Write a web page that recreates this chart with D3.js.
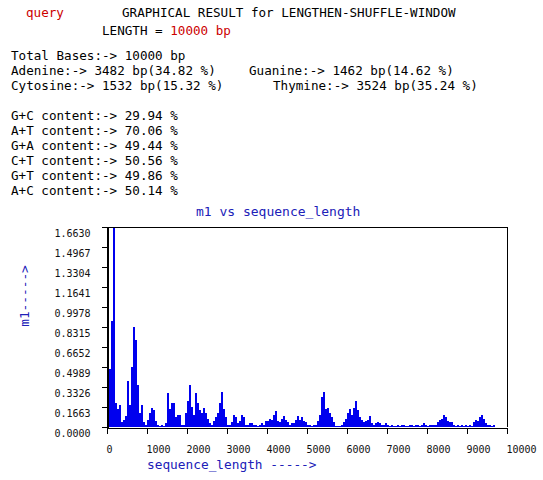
<!DOCTYPE html>
<html><head><meta charset="utf-8">
<script src="https://cdn.jsdelivr.net/npm/d3@7/dist/d3.min.js"></script>
<style>
html,body{margin:0;padding:0;background:#fff;}
svg{display:block;}
text{font-family:"DejaVu Sans Mono",monospace;}
</style></head>
<body>
<script>
// ---- data ----
const stepBp = 50;
const m1Values = [
0.28,0.48,0.88,1.663,0.2,0.15,0.18,0.04,0.06,0.09,
0.38,0.18,0.5,0.83,0.72,0.35,0.12,0.18,0.04,0.02,
0.06,0.12,0.16,0.14,0.05,0.02,0.01,0.02,0.01,0.03,
0.28,0.15,0.2,0.2,0.08,0.1,0.1,0.02,0.02,0.12,
0.22,0.35,0.17,0.1,0.28,0.2,0.14,0.12,0.16,0.12,
0.07,0.03,0.02,0.05,0.08,0.12,0.2,0.29,0.15,0.08,
0.02,0.02,0.04,0.1,0.08,0.03,0.05,0.1,0.08,0.02,
0.02,0.03,0.03,0.02,0.02,0.01,0.02,0.03,0.02,0.05,
0.05,0.07,0.06,0.1,0.13,0.05,0.04,0.07,0.09,0.06,
0.04,0.02,0.03,0.03,0.06,0.09,0.06,0.08,0.05,0.04,
0.02,0.02,0.01,0.02,0.02,0.05,0.1,0.25,0.29,0.15,
0.16,0.12,0.08,0.04,0.01,0.01,0.01,0.02,0.04,0.07,
0.12,0.15,0.1,0.16,0.22,0.14,0.08,0.06,0.04,0.05,
0.06,0.09,0.03,0.02,0.03,0.04,0.03,0.015,0.02,0.035,
0.015,0.01,0.015,0.005,0.01,0.015,0.01,0.02,0.015,0.01,
0.01,0.02,0.015,0.01,0.02,0.015,0.01,0.02,0.03,0.015,
0.01,0.015,0.02,0.015,0.02,0.04,0.06,0.07,0.1,0.08,
0.05,0.04,0.04,0.015,0.01,0.015,0.01,0.015,0.01,0.015,
0.01,0.015,0.01,0.04,0.06,0.05,0.08,0.1,0.07,0.03,
0.015,0.015,0.01,0.015
];
const yTickValues = [0,0.1663,0.3326,0.4989,0.6652,0.8315,0.9978,1.1641,1.3304,1.4967,1.6630];
const yTickLabels = ["0.0000","0.1663","0.3326","0.4989","0.6652","0.8315","0.9978","1.1641","1.3304","1.4967","1.6630"];
const xTickValues = [0,1000,2000,3000,4000,5000,6000,7000,8000,9000,10000];
const xTickLabels = ["0","1000","2000","3000","4000","5000","6000","7000","8000","9000","10000"];
const headerTitle = "GRAPHICAL RESULT for LENGTHEN-SHUFFLE-WINDOW";
const seqName = "query";
const lengthText = "10000 bp";
const statLines = [
  ["Total Bases:-> 10000 bp", ""],
  ["Adenine:-> 3482 bp(34.82 %)", "Guanine:-> 1462 bp(14.62 %)"],
  ["Cytosine:-> 1532 bp(15.32 %)", "Thymine:-> 3524 bp(35.24 %)"]
];
const contentLines = [
  "G+C content:-> 29.94 %",
  "A+T content:-> 70.06 %",
  "G+A content:-> 49.44 %",
  "C+T content:-> 50.56 %",
  "G+T content:-> 49.86 %",
  "A+C content:-> 50.14 %"
];
const chartTitle = "m1 vs sequence_length";
const xLabel = "sequence_length ----->";
const yLabel = "m1----->";

// ---- drawing ----
(function () {
const W = 543, H = 480;
const svg = d3.select("body").append("svg").attr("width", W).attr("height", H);
svg.append("rect").attr("width", W).attr("height", H).attr("fill", "#fff");

const red = "#cc0000", blueText = "#2020b8", fs = "12.6px";

// header
svg.append("text").attr("x", 26).attr("y", 17).attr("fill", red).style("font-size", fs).text(seqName);
svg.append("text").attr("x", 122).attr("y", 17).attr("fill", "#000").style("font-size", fs).text(headerTitle);
const lt = svg.append("text").attr("x", 102).attr("y", 35).attr("fill", "#000").style("font-size", fs).attr("xml:space","preserve");
lt.append("tspan").text("LENGTH = ");
lt.append("tspan").attr("fill", red).text(lengthText);

const statRightX = [0, 249, 273];
statLines.forEach((l, i) => {
  svg.append("text").attr("x", 11).attr("y", 60 + 15 * i).attr("fill", "#000").style("font-size", fs).text(l[0]);
  if (l[1]) svg.append("text").attr("x", statRightX[i]).attr("y", 60 + 15 * i).attr("fill", "#000").style("font-size", fs).text(l[1]);
});
contentLines.forEach((l, i) => {
  svg.append("text").attr("x", 11).attr("y", 120 + 15 * i).attr("fill", "#000").style("font-size", fs).text(l);
});

// chart
const pL = 107, pR = 507, pT = 227, pB = 427;
const x = d3.scaleLinear().domain([0, 10000]).range([pL, pR]);
const y = d3.scaleLinear().domain([0, 1.663]).range([pB, pT]);

svg.append("g").attr("shape-rendering", "crispEdges")
  .selectAll("rect").data(m1Values).join("rect")
  .attr("x", (d, i) => x(i * stepBp))
  .attr("width", (d, i) => x((i + 1) * stepBp) - x(i * stepBp))
  .attr("y", d => y(Math.min(d, 1.663)))
  .attr("height", d => y(0) - y(Math.min(d, 1.663)))
  .attr("fill", "#0000ee");

// frame
const frame = svg.append("g").attr("shape-rendering", "crispEdges").attr("stroke", "#000").attr("fill", "none");
frame.append("path").attr("d", `M${pL + 0.5},${pB}V${pT + 0.5}H${pR + 0.5}V${pB}`);

// axes
const yAxis = d3.axisLeft(y).tickValues(yTickValues).tickSize(6).tickFormat((d, i) => yTickLabels[i]);
const gy = svg.append("g").attr("transform", `translate(${pL + 0.5},0)`).call(yAxis);
gy.select(".domain").attr("shape-rendering", "crispEdges");
gy.selectAll(".tick line").attr("shape-rendering", "crispEdges");
gy.selectAll(".tick text").attr("x", -17).attr("dy", "0.95em")
  .style("font-family", "'DejaVu Sans Mono',monospace").style("font-size", "10px").attr("fill", "#111");

const xAxis = d3.axisBottom(x).tickValues(xTickValues).tickSize(6).tickFormat((d, i) => xTickLabels[i]);
const gx = svg.append("g").attr("transform", `translate(0,${pB + 0.5})`).call(xAxis);
gx.select(".domain").attr("shape-rendering", "crispEdges");
gx.selectAll(".tick line").attr("shape-rendering", "crispEdges");
gx.selectAll(".tick text").attr("text-anchor", "start").attr("x", -1).attr("y", 25).attr("dy", 0)
  .style("font-family", "'DejaVu Sans Mono',monospace").style("font-size", "10px").attr("fill", "#111");

// labels
svg.append("text").attr("x", 196).attr("y", 216).attr("fill", blueText).style("font-size", "13px").text(chartTitle);
svg.append("text").attr("x", 147).attr("y", 469).attr("fill", blueText).style("font-size", "12.8px").text(xLabel);
svg.append("text").attr("transform", "translate(29,296) rotate(-90)").attr("text-anchor", "middle")
  .attr("fill", blueText).style("font-size", "12.8px").text(yLabel);
})();
</script>
</body></html>
